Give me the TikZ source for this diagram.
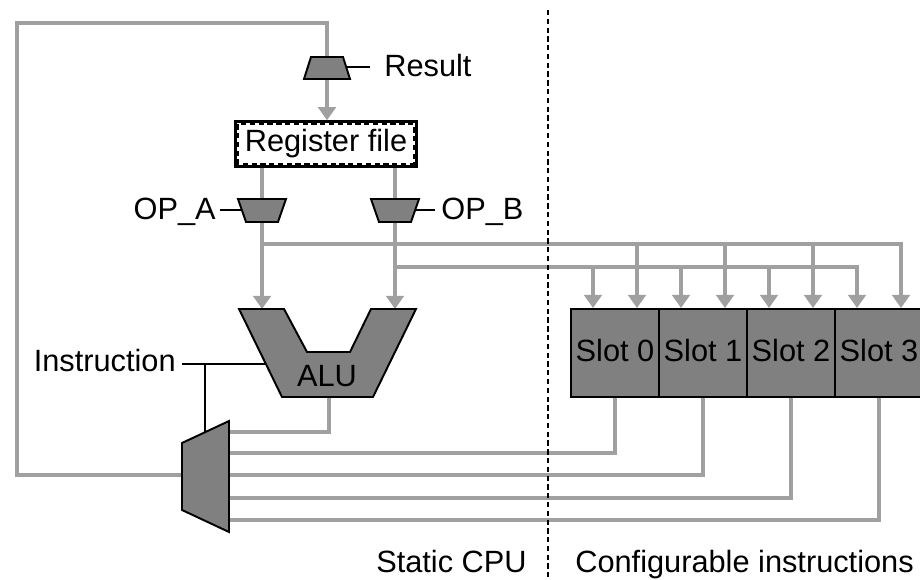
\documentclass[tikz,border=0pt]{standalone}
\usepackage{fontspec}
\setmainfont{Liberation Sans}
\usetikzlibrary{arrows.meta}
\definecolor{wiregray}{HTML}{A0A0A0}
\definecolor{unitgray}{HTML}{808080}

\begin{document}
\begin{tikzpicture}[
  x=0.02cm, y=-0.02cm,
  font=\fontsize{17.5}{21}\selectfont,
  wire/.style={draw=wiregray, line width=2pt},
  arr/.style={-{Triangle[length=7.5pt,width=10pt]}},
  ctrl/.style={draw=black, line width=1.1pt},
  unit/.style={draw=black, fill=unitgray, line width=1.1pt, line join=miter},
  slot/.style={unit, minimum width=1.76cm, minimum height=1.76cm, inner sep=0pt},
  tag/.style={inner sep=0pt}
]
  \clip (0,0) rectangle (920,580);

  % register file and the four slots
  \node[draw, line width=1.4pt, fill=white, minimum width=3.62cm,
        minimum height=0.9cm, inner sep=0pt] (reg) at (326,144) {Register file};
  \draw[line width=1pt, dash pattern=on 3pt off 2pt]
    ([shift={(0.08cm,-0.08cm)}]reg.north west) rectangle
    ([shift={(-0.08cm,0.08cm)}]reg.south east);
  \foreach \s in {0,1,2,3} {
    \node[slot, text depth=0.3em] (slot\s) at (615+88*\s,353) {Slot \s};
    \coordinate (inA\s) at ([xshift=0.44cm]slot\s.north);
    \coordinate (inB\s) at ([xshift=-0.44cm]slot\s.north);
  }

  \coordinate (busA) at (262,244);
  \coordinate (busB) at (395,267);
  \coordinate (aluA) at (262,309);
  \coordinate (aluB) at (395,309);
  \coordinate (aluout) at (329,397);

  % gray data paths
  \draw[wire] (182,475) -- (17,475) -- (17,23) -- (327,23) -- (327,57);
  \draw[wire,arr] (327,79) -- (reg.north -| 327,0);
  \draw[wire,arr] (reg.south -| aluA) -- (aluA);
  \draw[wire,arr] (reg.south -| aluB) -- (aluB);
  \draw[wire,arr] (busA) -| (inA3);
  \draw[wire,arr] (busB) -| (inB3);
  \foreach \s in {0,1,2} {
    \draw[wire,arr] (inA\s |- busA) -- (inA\s);
    \draw[wire,arr] (inB\s |- busB) -- (inB\s);
  }
  \draw[wire] (aluout) -- (329,432) -- (229,432);
  \foreach \s/\y in {0/453,1/475,2/498,3/520}
    \draw[wire] (slot\s.south) |- (229,\y);

  % units
  \draw[unit] (311,57) -- (343,57) -- (350,79) -- (304,79) -- cycle;
  \draw[unit] (238,199) -- (286,199) -- (278,222) -- (246,222) -- cycle;
  \draw[unit] (371,199) -- (419,199) -- (411,222) -- (379,222) -- cycle;
  \draw[unit] (239,309) -- (284,309) -- (307,352) -- (350,352) -- (371,309)
    -- (416,309) -- (373,397) -- (282,397) -- cycle;
  \node[tag, anchor=base] (alu) at (327,387) {ALU};
  \draw[unit] (182,443) -- (229,421) -- (229,532) -- (182,510) -- cycle;

  % control inputs
  \node[tag, anchor=base west] (result) at (384,77) {Result};
  \draw[ctrl] (346,67) -- ([xshift=-0.28cm]result.west |- 0,67);
  \node[tag, anchor=base east] (opAlbl) at (216,220) {OP\_A};
  \draw[ctrl] ([xshift=0.08cm]opAlbl.east |- 0,210) -- (242,210);
  \node[tag, anchor=base west] (opBlbl) at (441,220) {OP\_B};
  \draw[ctrl] (415,210) -- ([xshift=-0.12cm]opBlbl.west |- 0,210);
  \node[tag, anchor=base east] (instr) at (176,372) {Instruction};
  \coordinate (sel) at (205,364);
  \draw[ctrl] ([xshift=0.12cm]instr.east |- sel) -- (266,364);
  \draw[ctrl] (sel) -- (205,432);

  % partition
  \draw[line width=0.8pt, dash pattern=on 3pt off 2pt] (548,10) -- (548,580);
  \node[tag, anchor=base east] (static) at (527,573) {Static CPU};
  \node[tag, anchor=base west] (config) at (575,573) {Configurable instructions};
\end{tikzpicture}
\end{document}
